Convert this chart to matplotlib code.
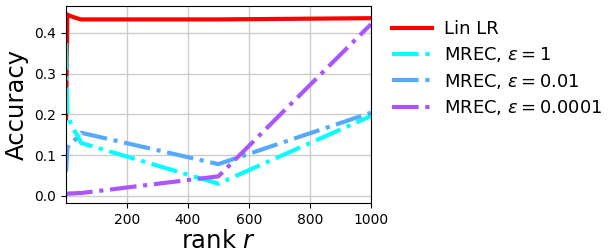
import matplotlib
matplotlib.use("Agg")
import matplotlib.pyplot as plt
import numpy as np

ranks = [1, 5, 10, 20, 40, 50, 500, 1000]
lin_lr = [0.19, 0.445, 0.443, 0.44, 0.435, 0.433, 0.433, 0.436]
mrec_eps1 = [0.375, 0.2, 0.19, 0.17, 0.146, 0.13, 0.03, 0.196]
mrec_eps001 = [0.06, 0.115, 0.125, 0.13, 0.145, 0.155, 0.078, 0.204]
mrec_eps00001 = [0.005, 0.005, 0.006, 0.006, 0.007, 0.007, 0.048, 0.421]

labels = ["Lin LR", r"MREC, $\varepsilon = 1$", r"MREC, $\varepsilon = 0.01$",
          r"MREC, $\varepsilon = 0.0001$"]

cmap = plt.get_cmap("cool")
fig = plt.figure(figsize=(6.12, 2.52), dpi=100)
ax = fig.add_axes([0.108, 0.195, 0.498, 0.783])

ax.plot(ranks, lin_lr, color="red", lw=3, label=labels[0])
ax.plot(ranks, mrec_eps1, color=cmap(0.0), lw=3, ls="-.", label=labels[1])
ax.plot(ranks, mrec_eps001, color=cmap(1/3), lw=3, ls="-.", label=labels[2])
ax.plot(ranks, mrec_eps00001, color=cmap(2/3), lw=3, ls="-.", label=labels[3])

ax.set_xlim(1, 1000)
ax.set_xticks([200, 400, 600, 800, 1000])
ax.set_yticks([0.0, 0.1, 0.2, 0.3, 0.4])
ax.tick_params(labelsize=10)
ax.grid(True, color="#cccccc", lw=1)
ax.set_xlabel(r"rank $r$", fontsize=17.5, labelpad=2)
ax.set_ylabel("Accuracy", fontsize=17.5)

ax.legend(loc="upper left", bbox_to_anchor=(1.028, 0.99), frameon=False,
          fontsize=13, handlelength=2.2, handletextpad=0.65,
          borderaxespad=0.3, labelspacing=0.4)

fig.savefig("out.png", dpi=100)
